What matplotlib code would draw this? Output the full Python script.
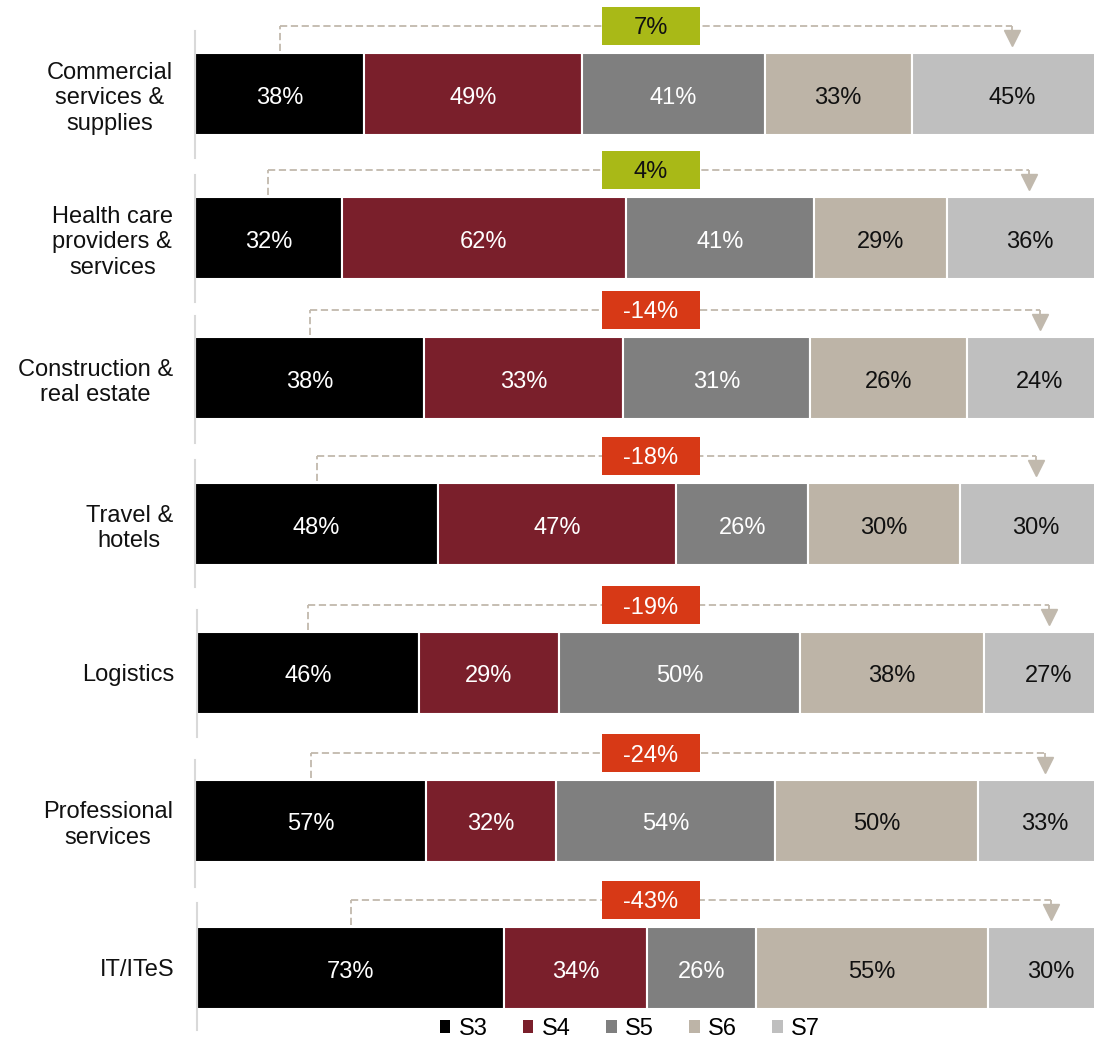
import matplotlib
matplotlib.use("Agg")
import matplotlib.pyplot as plt
from matplotlib.patches import Patch, Rectangle

plt.rcParams["font.family"] = ["Liberation Sans", "DejaVu Sans"]

categories = [
    "Commercial\nservices &\nsupplies",
    "Health care\nproviders &\nservices",
    "Construction &\nreal estate",
    "Travel &\nhotels",
    "Logistics",
    "Professional\nservices",
    "IT/ITeS",
]
series = ["S3", "S4", "S5", "S6", "S7"]
s3 = [38, 32, 38, 48, 46, 57, 73]
s4 = [49, 62, 33, 47, 29, 32, 34]
s5 = [41, 41, 31, 26, 50, 54, 26]
s6 = [33, 29, 26, 30, 38, 50, 55]
s7 = [45, 36, 24, 30, 27, 33, 30]

colors = ["#000000", "#7a1f2b", "#7f7f7f", "#bdb4a7", "#bfbfbf"]
text_colors = ["white", "white", "white", "#111111", "#111111"]
up_color = "#a9b917"
down_color = "#d73916"
bracket_color = "#c1b9ad"

W, H = 1094, 1038
fig = plt.figure(figsize=(W / 100, H / 100), dpi=100)

# panel layout in pixels (top of each row's axis line and of its bar)
panel_tops = [31, 175, 316, 460, 610, 760, 903]
bar_tops = [53, 197, 337, 483, 632, 780, 927]
panel_lefts = [195, 195, 195, 195, 197, 195, 197]
panel_h = 127
bar_h = 82
bar_w = 917  # full 100% width, runs past the right edge
fs = 17

for i, cat in enumerate(categories):
    vals = [s3[i], s4[i], s5[i], s6[i], s7[i]]
    total = sum(vals)
    shares = [v / total for v in vals]

    top = panel_tops[i]
    lpx = panel_lefts[i]
    ax = fig.add_axes([lpx / W, 1 - (top + panel_h) / H, bar_w / W, panel_h / H])
    ax.set_xlim(0, 1)
    ax.set_ylim(panel_h, 0)

    y0 = bar_tops[i] - top
    yc = y0 + bar_h / 2
    left = 0
    centers = []
    for j, sh in enumerate(shares):
        ax.barh(yc, sh, left=left, height=bar_h, color=colors[j],
                edgecolor="white", linewidth=1.5)
        ax.text(left + sh / 2, yc + 1, f"{vals[j]}%", ha="center",
                va="center_baseline", color=text_colors[j], fontsize=fs)
        centers.append(left + sh / 2)
        left += sh

    # bracket from S3 to S7 with the change in points
    change = s7[i] - s3[i]
    yb = y0 - 27
    dash = dict(color=bracket_color, lw=1.3, ls=(0, (4, 2)), clip_on=False)
    ax.plot([centers[0], centers[0]], [y0 - 2, yb], **dash)
    ax.plot([centers[0], centers[-1]], [yb, yb], **dash)
    ax.plot([centers[-1], centers[-1]], [yb, y0 - 22], **dash)
    ax.plot(centers[-1], y0 - 15, marker="v", markersize=11,
            color=bracket_color, clip_on=False, linestyle="none")

    bx, bw, bh = (651 - lpx) / bar_w, 98 / bar_w, 38
    ax.add_patch(Rectangle((bx - bw / 2, yb - bh / 2), bw, bh,
                           facecolor=up_color if change >= 0 else down_color,
                           edgecolor="none", clip_on=False, zorder=5))
    ax.text(bx, yb, f"{change}%", ha="center", va="center_baseline", fontsize=fs,
            color="#111111" if change >= 0 else "white", zorder=6)

    ax.set_yticks([yc])
    ax.set_yticklabels([cat], fontsize=fs, color="#111111")
    ax.get_yticklabels()[0].set_multialignment("center")
    ax.tick_params(axis="y", length=0, pad=16)
    ax.set_xticks([])
    for side in ["top", "right", "bottom"]:
        ax.spines[side].set_visible(False)
    ax.spines["left"].set_color("#d9d9d9")
    ax.spines["left"].set_linewidth(1.5)
    ax.patch.set_alpha(0)

handles = [Patch(facecolor=c, edgecolor="none") for c in colors]
fig.legend(handles, series, loc="center", bbox_to_anchor=(630 / W, 1 - 1029 / H),
           ncol=5, frameon=False, fontsize=fs, handlelength=0.45, handleheight=0.45,
           handletextpad=0.35, columnspacing=1.5, borderpad=0)

fig.savefig("out.png", dpi=100)
